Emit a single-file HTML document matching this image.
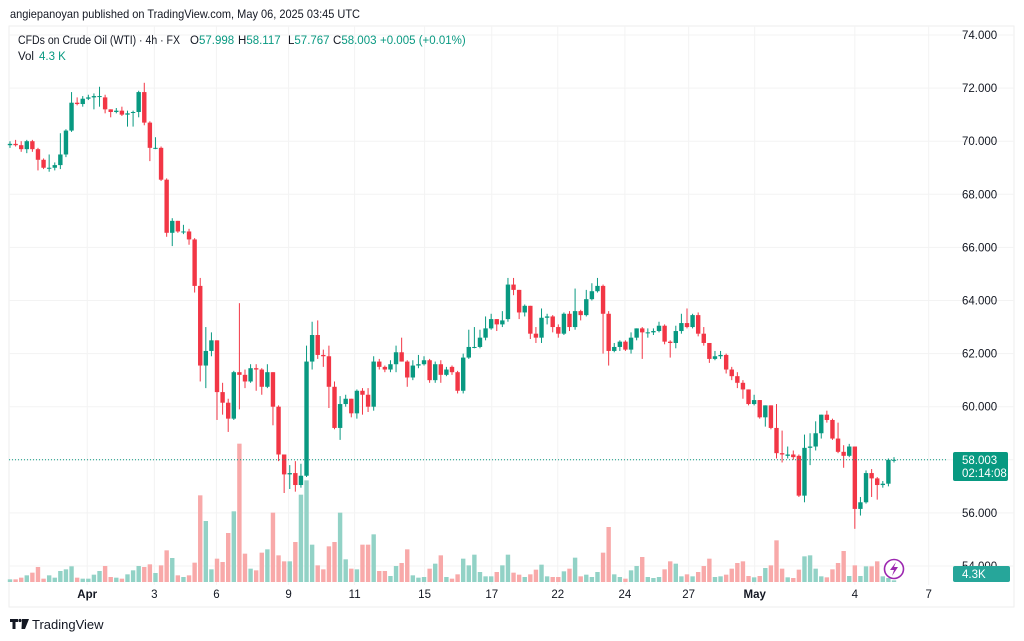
<!DOCTYPE html>
<html><head><meta charset="utf-8">
<style>
body{margin:0;background:#fff;font-family:"Liberation Sans",sans-serif;}
#wrap{position:relative;width:1024px;height:641px;overflow:hidden;background:#fff;}
svg text{font-family:"Liberation Sans",sans-serif;}
</style></head>
<body>
<div id="wrap">
<svg id="chart" width="1024" height="641">
  <rect x="9" y="26" width="1005" height="581" fill="#fff" stroke="#eeeeee"/>
  <g id="grid"></g>
  <g id="vols"></g>
  <g id="candles"></g>
  <g id="yaxis"></g>
  <g id="xaxis"></g>
  <text x="10" y="18" font-size="12" fill="#131722" textLength="350" lengthAdjust="spacingAndGlyphs">angiepanoyan published on TradingView.com, May 06, 2025 03:45 UTC</text>
  <g font-size="11.5">
    <text x="18" y="44" fill="#131722" textLength="162" lengthAdjust="spacingAndGlyphs">CFDs on Crude Oil (WTI) · 4h · FX</text>
    <text x="190" y="44" fill="#131722">O<tspan fill="#089981">57.998</tspan></text>
    <text x="238" y="44" fill="#131722">H<tspan fill="#089981">58.117</tspan></text>
    <text x="288" y="44" fill="#131722">L<tspan fill="#089981">57.767</tspan></text>
    <text x="333" y="44" fill="#131722">C<tspan fill="#089981">58.003</tspan></text>
    <text x="380" y="44" fill="#089981">+0.005 (+0.01%)</text>
  </g>
  <text x="18" y="60" font-size="11.5" fill="#131722">Vol</text>
  <text x="39" y="60" font-size="11.5" fill="#089981">4.3 K</text>
  <line x1="9" y1="459.8" x2="948" y2="459.8" stroke="#089981" stroke-width="1" stroke-dasharray="1,2"/>
  <rect x="953" y="452" width="55" height="29" rx="2" fill="#089981"/>
  <text x="962" y="464" font-size="11.5" fill="#fff">58.003</text>
  <text x="962" y="477" font-size="11.5" fill="#fff">02:14:08</text>
  <rect x="953" y="566" width="57" height="16" rx="2" fill="#26a69a"/>
  <text x="962" y="578" font-size="11.5" fill="#fff">4.3K</text>
  <g>
    <circle cx="894" cy="569" r="9.5" fill="#fff" stroke="#9c27b0" stroke-width="1.6"/>
    <path d="M896 562 L890 570 L894 570 L892 576 L898 567 L894 567 Z" fill="#9c27b0"/>
  </g>
  <g>
    <path d="M10 619 H18 V622 H15.5 V629 H12.5 V622 H10 Z" fill="#131722"/>
    <circle cx="20" cy="620.5" r="1.6" fill="#131722"/>
    <path d="M22 619 H29 L25 629 H21.5 Z" fill="#131722"/>
    <text x="32" y="629" font-size="13" fill="#131722">TradingView</text>
  </g>
</svg>
</div>
<script>
const priceTicks = [74,72,70,68,66,64,62,60,58,56,54];
const dateLabels = ["Apr","3","6","9","11","15","17","22","24","27","May","4","7"];
const dateIndex = [13.8,25.8,36.9,49.8,61.6,74.1,86.1,97.9,109.9,121.3,133.1,151,164.2];
const opens = [69.85,69.9,69.85,69.7,70.0,69.7,69.3,69.0,69.0,69.1,69.5,70.4,71.45,71.4,71.6,71.65,71.7,71.65,71.2,71.1,71.15,71.0,71.1,71.1,71.85,70.7,69.75,69.75,68.55,66.55,67.0,66.6,66.6,66.3,64.55,61.55,62.1,62.5,60.55,60.15,59.55,61.3,61.2,60.95,61.45,61.4,60.75,61.3,60.0,58.2,57.45,57.5,57.05,57.4,61.7,62.7,61.95,61.9,60.75,59.2,60.1,60.3,59.75,60.6,60.45,60.0,61.7,61.5,61.4,61.6,62.05,61.7,61.1,61.55,61.6,61.75,61.0,61.6,61.2,61.5,61.3,60.6,61.85,62.25,62.25,62.6,62.95,63.3,63.1,63.3,64.6,64.4,63.55,63.8,62.75,62.6,63.35,63.4,63.0,62.75,63.5,63.0,63.6,63.45,64.05,64.35,64.55,63.5,62.1,62.25,62.45,62.15,62.6,62.95,62.8,62.8,62.85,63.05,62.45,62.4,62.85,63.15,63.0,63.45,62.75,62.4,61.8,61.9,61.95,61.4,61.15,60.9,60.65,60.1,60.25,59.6,60.05,59.2,58.25,58.15,58.2,58.15,56.65,58.45,58.5,59.0,59.7,59.5,58.8,58.3,58.15,58.5,56.15,56.4,57.5,57.3,57.05,57.1,58.0];
const closes = [69.9,69.85,69.7,70.0,69.7,69.3,69.0,69.0,69.1,69.5,70.4,71.45,71.4,71.6,71.65,71.7,71.7,71.2,71.1,71.15,71.0,71.05,71.1,71.85,70.7,69.75,69.75,68.55,66.55,67.0,66.6,66.6,66.3,64.55,61.55,62.1,62.5,60.55,60.15,59.55,61.3,61.2,60.95,61.45,61.4,60.75,61.3,60.0,58.2,57.45,57.5,57.05,57.4,61.7,62.7,61.95,61.9,60.75,59.2,60.1,60.3,59.75,60.6,60.45,60.0,61.7,61.5,61.4,61.6,62.05,61.7,61.1,61.55,61.6,61.75,61.0,61.6,61.2,61.4,61.3,60.6,61.85,62.25,62.25,62.6,62.95,63.3,63.1,63.25,64.6,64.4,63.55,63.8,62.75,62.6,63.35,63.4,63.0,62.75,63.5,63.0,63.6,63.45,64.05,64.35,64.55,63.5,62.1,62.25,62.45,62.15,62.6,62.95,62.8,62.8,62.85,63.05,62.45,62.4,62.85,63.15,63.0,63.45,62.75,62.4,61.8,61.9,61.95,61.4,61.15,60.9,60.65,60.1,60.25,59.6,60.05,59.2,58.25,58.2,58.2,58.1,56.65,58.45,58.5,59.0,59.7,59.5,58.8,58.3,58.15,58.5,56.15,56.4,57.5,57.3,57.05,57.1,58.0,58.0];
const highs = [70.0,70.05,70.0,70.05,70.05,69.75,69.35,69.5,69.2,70.3,70.45,71.85,71.65,71.7,71.75,71.8,72.05,71.75,71.2,71.25,71.3,71.15,71.15,71.9,72.2,70.75,70.15,69.8,68.6,67.1,67.0,66.85,66.7,66.35,64.85,63.0,62.8,62.5,60.9,60.3,61.35,63.9,61.4,61.6,61.6,61.45,61.6,61.3,60.05,58.2,57.8,57.95,57.85,62.3,63.2,63.25,62.15,62.3,60.95,60.4,60.45,60.3,60.65,60.7,60.7,61.9,61.8,61.55,61.75,62.3,62.6,61.75,61.75,61.95,61.9,61.8,61.7,61.75,61.5,61.55,61.35,62.0,62.9,63.0,62.9,63.4,63.5,63.3,63.6,64.85,64.85,64.4,63.85,63.8,63.0,63.7,63.5,63.45,63.1,63.55,63.6,64.45,63.65,64.4,64.65,64.85,64.6,63.6,62.4,62.5,62.5,62.8,62.95,63.0,62.95,62.95,63.2,63.1,62.5,63.05,63.5,63.7,63.5,63.55,63.0,62.4,62.1,62.1,62.0,61.5,61.3,61.0,60.65,60.45,60.25,60.05,60.05,60.1,59.1,58.5,58.35,58.2,58.95,59.0,59.45,59.7,59.85,59.55,59.4,58.55,58.6,58.5,56.6,57.6,57.65,57.35,57.2,58.05,58.1];
const lows = [69.75,69.8,69.6,69.55,69.6,68.9,68.95,68.85,68.9,68.95,69.4,70.35,71.35,71.3,71.55,71.2,71.3,71.05,70.9,71.05,70.95,70.55,70.55,70.9,70.6,69.25,69.7,68.5,66.4,66.05,66.55,66.5,66.1,64.3,60.95,60.7,61.9,59.5,59.7,59.05,59.5,59.9,60.7,60.9,60.6,60.45,60.7,59.3,57.95,56.75,56.9,56.8,56.95,57.35,61.4,61.8,61.5,59.95,59.15,58.75,60.0,59.6,59.55,59.7,59.8,59.85,61.4,61.3,61.3,61.3,61.7,60.75,61.0,61.45,61.55,60.9,60.9,60.9,61.15,61.2,60.5,60.5,61.8,62.2,62.2,62.5,62.9,62.85,63.0,63.2,64.2,63.3,63.4,62.55,62.4,62.4,63.1,62.8,62.6,62.7,62.85,62.9,63.25,63.4,64.0,64.3,62.0,61.55,62.05,62.1,62.1,62.0,62.5,61.8,62.6,62.7,62.8,62.35,61.85,62.2,62.75,62.95,62.95,62.65,62.3,61.65,61.75,61.8,61.25,61.0,60.7,60.3,60.05,60.05,59.55,59.25,59.15,58.05,57.9,58.05,58.0,56.6,56.4,57.8,58.35,58.8,59.4,58.75,58.25,57.7,58.1,55.4,55.9,56.35,56.6,56.5,56.95,57.0,57.9];
const volumes = [8,8,13,20,28,45,10,20,13,33,38,47,13,10,10,22,33,48,15,13,10,23,35,48,45,53,27,50,95,72,20,15,20,58,260,183,38,70,60,147,212,415,85,40,35,88,98,208,80,62,62,120,262,305,112,50,38,107,120,208,68,40,38,112,112,143,33,33,18,48,57,98,20,13,15,40,55,80,15,10,23,70,50,82,30,17,17,30,50,82,28,22,15,23,37,52,17,15,15,32,40,73,17,22,15,30,88,165,23,15,10,35,48,75,15,12,15,38,62,55,17,23,17,30,48,70,15,17,22,40,57,62,18,14,18,42,50,125,40,14,12,37,77,80,40,17,14,38,57,93,18,50,18,47,47,62,17,12,5];

const NS='http://www.w3.org/2000/svg';
const X0=10, STEP=(894-10)/158;
function xAt(i){return X0+STEP*i;}
function yAt(p){return 35+(74-p)*26.55;}
function vH(v){return v/3;}
const VBASE=582;
function mk(tag,attrs,parent){const e=document.createElementNS(NS,tag);for(const k in attrs)e.setAttribute(k,attrs[k]);parent.appendChild(e);return e;}
const grid=document.getElementById('grid'), yax=document.getElementById('yaxis'), xax=document.getElementById('xaxis');
priceTicks.forEach(p=>{
  const l=mk('line',{x1:9,x2:1014,y1:yAt(p),y2:yAt(p),stroke:'#f3f3f3'},grid);
  
  
  const t=mk('text',{x:962,y:yAt(p)+4,'font-size':11.5,fill:'#131722'},yax);
  t.textContent=p.toFixed(3);
  
  
});
dateLabels.forEach((d,i)=>{
  const x=xAt(dateIndex[i]);
  const l=mk('line',{x1:x,x2:x,y1:26,y2:585,stroke:'#f3f3f3'},grid);
  
  
  const bold=(d==='Apr'||d==='May');
  const t=mk('text',{x:x,y:598,'font-size':11.5,fill:'#131722','text-anchor':'middle','font-weight':bold?'bold':'normal'},xax);
  t.textContent=d;
  
  
});
const vg=document.getElementById('vols'), cg=document.getElementById('candles');
closes.forEach((c,i)=>{
  const o=opens[i], up=c>=o, x=xAt(i);
  const v=mk('rect',{x:x-2.2,y:VBASE-vH(volumes[i]),width:4.4,height:vH(volumes[i]),fill:up?'#92d2c6':'#f8a9a9'},vg);
  
  
  const col=up?'#089981':'#f23645';
  const w=mk('line',{x1:x,x2:x,y1:yAt(highs[i]),y2:yAt(lows[i]),stroke:col,'stroke-width':1},cg);
  
  
  const top=yAt(Math.max(o,c)), bh=Math.max(1,Math.abs(yAt(o)-yAt(c)));
  const b=mk('rect',{x:x-2.2,y:top,width:4.4,height:bh,fill:col},cg);
  
  
});
</script>
</body></html>
